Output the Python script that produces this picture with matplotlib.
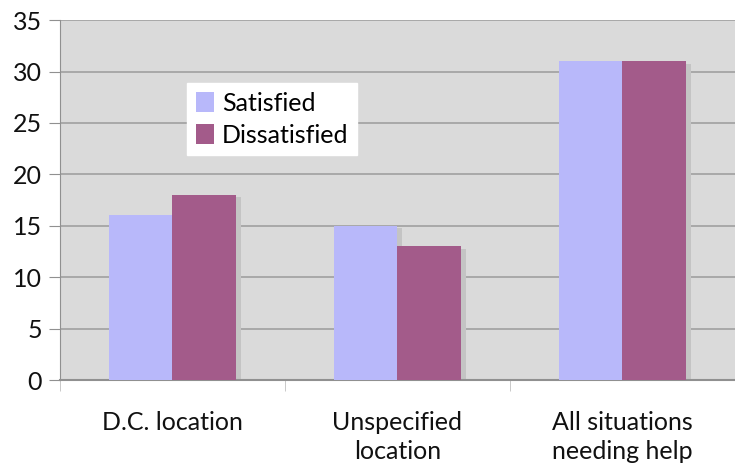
import matplotlib.pyplot as plt
import numpy as np

# data
categories = ["D.C. location", "Unspecified\nlocation", "All situations\nneeding help"]
satisfied = [16, 15, 31]
dissatisfied = [18, 13, 31]
yticks = [0, 5, 10, 15, 20, 25, 30, 35]

plt.rcParams['font.family'] = ['Lato', 'DejaVu Sans']

fig = plt.figure(figsize=(7.35, 4.68), dpi=100)
ax = fig.add_axes([0.0816, 0.188, 0.9184, 0.769])
ax.set_facecolor('#dadada')

x = np.arange(len(categories))
w = 0.284
# soft shadows behind bars
ax.bar(x - w/2 + 0.02, satisfied, w, bottom=-0.25, color='#c4c4c4', zorder=2)
ax.bar(x + w/2 + 0.02, dissatisfied, w, bottom=-0.25, color='#c4c4c4', zorder=2)
ax.bar(x - w/2, satisfied, w, color='#b8b8fa', label='Satisfied', zorder=3)
ax.bar(x + w/2, dissatisfied, w, color='#a35b8a', label='Dissatisfied', zorder=3)

ax.set_xlim(-0.5, 2.5)
ax.set_ylim(0, 35)
ax.set_yticks(yticks)
ax.yaxis.grid(True, color='#a0a0a0', linewidth=1.2, zorder=1)
ax.set_axisbelow(True)

ax.set_xticks(x)
ax.set_xticklabels(categories, fontsize=18, linespacing=1.35, color='#111111')
ax.set_xticks([-0.5, 0.5, 1.5, 2.5], minor=True)
ax.tick_params(axis='x', which='major', length=0, pad=22)
ax.tick_params(axis='x', which='minor', length=8, color='#c0c0c0', direction='out')
ax.tick_params(axis='y', labelsize=18, labelcolor='#111111', length=8, color='#909090', pad=5)

for s in ['top', 'right']:
    ax.spines[s].set_visible(False)
ax.spines['left'].set_color('#909090')
ax.spines['bottom'].set_color('#909090')
ax.spines['bottom'].set_linewidth(1.5)

leg = ax.legend(loc='upper left', bbox_to_anchor=(0.188, 0.825), fontsize=18,
                frameon=True, fancybox=False, handlelength=0.75, handleheight=0.85,
                handletextpad=0.3, borderpad=0.35, labelspacing=0.35, borderaxespad=0)
leg.get_frame().set_edgecolor('white')
leg.get_frame().set_facecolor('white')
leg.get_frame().set_alpha(1)

fig.savefig('out.png', dpi=100)
